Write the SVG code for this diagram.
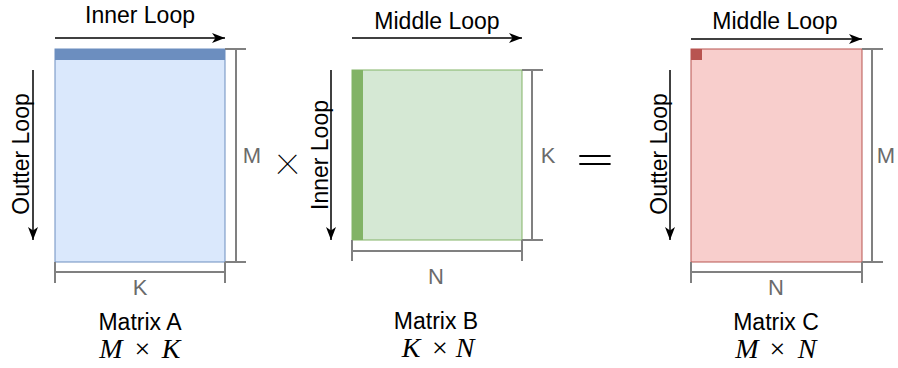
<svg xmlns="http://www.w3.org/2000/svg" width="898" height="368" viewBox="0 0 898 368">
<defs>
<marker id="ah" viewBox="-14 -6 16 12" refX="0" refY="0" markerWidth="16" markerHeight="12" markerUnits="userSpaceOnUse" orient="auto">
<path d="M0,0 L-13,-5 L-9.5,0 L-13,5 Z" fill="#000"/>
</marker>
<style>
text{font-family:"Liberation Sans",Arial,Helvetica,sans-serif;}
.lbl{font-size:23px;fill:#000;text-anchor:middle;}
.dim{font-size:22px;fill:#6b6b6b;text-anchor:middle;}
.dl{stroke:#808080;stroke-width:2;fill:none;}
.arr{stroke:#000;stroke-width:1.5;fill:none;marker-end:url(#ah);}
.math{font-family:"Liberation Serif","Times New Roman",serif;font-size:28px;fill:#000;text-anchor:middle;}
.it{font-style:italic;}
.op{font-family:Roboto,"Liberation Sans",sans-serif;font-weight:100;fill:#000;text-anchor:middle;}
.eq{font-family:"DejaVu Sans",sans-serif;font-weight:200;fill:#000;text-anchor:middle;}
</style>
</defs>

<g id="matrixA">
<rect x="55" y="49" width="170" height="213" fill="#dae8fc" stroke="#6c8ebf" stroke-width="1"/>
<rect x="55" y="49" width="170" height="11" fill="#6c8ebf"/>
<text class="lbl" x="140" y="330">Matrix A</text>
<text class="math" y="358"><tspan class="it" x="111">M</tspan><tspan x="142.5">×</tspan><tspan class="it" x="171">K</tspan></text>
</g>

<g id="matrixB">
<rect x="352" y="70" width="170" height="170" fill="#d5e8d4" stroke="#82b366" stroke-width="1"/>
<rect x="352" y="70" width="11" height="170" fill="#82b366"/>
<text class="lbl" x="436" y="329">Matrix B</text>
<text class="math" y="357"><tspan class="it" x="411">K</tspan><tspan x="440">×</tspan><tspan class="it" x="465">N</tspan></text>
</g>

<g id="matrixC">
<rect x="691" y="49" width="171" height="213" fill="#f8cecc" stroke="#b85450" stroke-width="1"/>
<rect x="691" y="49" width="11" height="11" fill="#b85450"/>
<text class="lbl" x="776" y="330">Matrix C</text>
<text class="math" y="358"><tspan class="it" x="747">M</tspan><tspan x="777.5">×</tspan><tspan class="it" x="807">N</tspan></text>
</g>

<g id="operators">
<text class="op" x="287.5" y="174" font-size="48">×</text>
<text class="eq" x="595" y="176" font-size="50">=</text>
</g>

<g id="dimensions">
<path class="dl" d="M236,49 V262 M225,49 H246 M225,262 H246"/>
<path class="dl" d="M55,272 H225 M55,262 V283 M225,262 V283"/>
<text class="dim" x="252" y="163">M</text>
<text class="dim" x="140" y="295">K</text>
<path class="dl" d="M532,70 V240 M522,70 H543 M522,240 H543"/>
<path class="dl" d="M352,251 H522 M352,240 V261 M522,240 V261"/>
<text class="dim" x="548" y="163">K</text>
<text class="dim" x="436" y="284">N</text>
<path class="dl" d="M872,49 V262 M862,49 H883 M862,262 H883"/>
<path class="dl" d="M691,272 H862 M691,262 V283 M862,262 V283"/>
<text class="dim" x="886" y="163">M</text>
<text class="dim" x="776" y="295">N</text>
</g>

<g id="connectors">
<path class="arr" d="M55,38 H225"/>
<path class="arr" d="M33,70 V240"/>
<path class="arr" d="M352,38 H522"/>
<path class="arr" d="M331,70 V240"/>
<path class="arr" d="M691,39 H862"/>
<path class="arr" d="M670,70 V240"/>
</g>

<g id="loopLabels">
<text class="lbl" x="140" y="23">Inner Loop</text>
<text class="lbl" transform="translate(29,154) rotate(-90)">Outter Loop</text>
<text class="lbl" x="437" y="29">Middle Loop</text>
<text class="lbl" transform="translate(328,155) rotate(-90)">Inner Loop</text>
<text class="lbl" x="775" y="29">Middle Loop</text>
<text class="lbl" transform="translate(667,154) rotate(-90)">Outter Loop</text>
</g>
</svg>
